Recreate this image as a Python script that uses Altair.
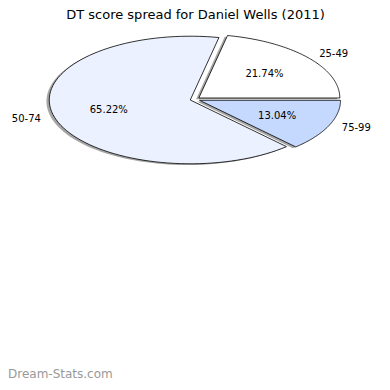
import altair as alt
import pandas as pd

# ---- data ----
labels = ["25-49", "50-74", "75-99"]
counts = [5, 15, 3]
colors = ["#FFFFFF", "#EBF1FE", "#C5D8FE"]
title_text = "DT score spread for Daniel Wells (2011)"
watermark = "Dream-Stats.com"

EXPLODE = 0.035
N = 90  # arc resolution

slices = pd.DataFrame({"cat": labels, "value": counts, "order": list(range(len(labels)))})
steps = pd.DataFrame({"k": list(range(N + 3))})
pts = slices.merge(steps, how="cross")

xs = alt.Scale(domain=[-1, 1], range=[46, 328], nice=False, zero=False)
ys = alt.Scale(domain=[-1, 1], range=[155.2, 27.6], nice=False, zero=False)

base = (
    alt.Chart(pts)
    .transform_joinaggregate(total="sum(value)", groupby=["k"])
    .transform_window(cum="sum(value)", sort=[alt.SortField("order", order="ascending")],
                      groupby=["k"], frame=[None, 0])
    .transform_calculate(a0="2*PI*(datum.cum-datum.value)/datum.total")
    .transform_calculate(a1="2*PI*datum.cum/datum.total")
    .transform_calculate(mid="(datum.a0+datum.a1)/2")
    .transform_calculate(t=f"clamp((datum.k-1)/{N},0,1)")
    .transform_calculate(ang="datum.a0+(datum.a1-datum.a0)*datum.t")
    .transform_calculate(r=f"(datum.k==0 || datum.k=={N + 2}) ? 0 : 1")
    .transform_calculate(px=f"{EXPLODE}*cos(datum.mid)+datum.r*cos(datum.ang)")
    .transform_calculate(py=f"{EXPLODE}*sin(datum.mid)+datum.r*sin(datum.ang)")
    .transform_calculate(sx="datum.px-0.02", sy="datum.py-0.02")
)

shadow = base.mark_line(filled=True, fill="black", fillOpacity=0.35, strokeWidth=0).encode(
    x=alt.X("sx:Q", scale=xs, axis=None),
    y=alt.Y("sy:Q", scale=ys, axis=None),
    detail="cat:N",
    order="k:Q",
)

wedges = base.mark_line(filled=True, stroke="black", strokeWidth=0.8, strokeJoin="miter").encode(
    x=alt.X("px:Q", scale=xs, axis=None),
    y=alt.Y("py:Q", scale=ys, axis=None),
    color=alt.Color("cat:N", scale=alt.Scale(domain=labels, range=colors), legend=None),
    order="k:Q",
)

lab = (
    base.transform_filter("datum.k==0")
    .transform_calculate(lx=f"({EXPLODE}+1.1)*cos(datum.mid)", ly=f"({EXPLODE}+1.1)*sin(datum.mid)")
    .transform_calculate(cx=f"({EXPLODE}+0.6)*cos(datum.mid)", cy=f"({EXPLODE}+0.6)*sin(datum.mid)")
    .transform_calculate(pct="format(datum.value/datum.total*100,'.2f')+'%'")
)

txt_kw = dict(font="DejaVu Sans", fontSize=10, color="black", baseline="middle")

lab_left = lab.transform_filter("cos(datum.mid)>=0").mark_text(align="left", **txt_kw).encode(
    x=alt.X("lx:Q", scale=xs, axis=None), y=alt.Y("ly:Q", scale=ys, axis=None), text="cat:N")
lab_right = lab.transform_filter("cos(datum.mid)<0").mark_text(align="right", **txt_kw).encode(
    x=alt.X("lx:Q", scale=xs, axis=None), y=alt.Y("ly:Q", scale=ys, axis=None), text="cat:N")
pct = lab.mark_text(align="center", **txt_kw).encode(
    x=alt.X("cx:Q", scale=xs, axis=None), y=alt.Y("cy:Q", scale=ys, axis=None), text="pct:N")

title = alt.Chart(pd.DataFrame({"t": [title_text]})).mark_text(
    font="DejaVu Sans", fontSize=13, align="center", baseline="alphabetic", color="black"
).encode(text="t:N", x=alt.value(187.5), y=alt.value(11))

wm = alt.Chart(pd.DataFrame({"t": [watermark]})).mark_text(
    font="DejaVu Sans", fontSize=12, align="left", baseline="alphabetic", color="#999999"
).encode(text="t:N", x=alt.value(0), y=alt.value(370))

chart = (
    alt.layer(shadow, wedges, lab_left, lab_right, pct, title, wm)
    .properties(width=374, height=374, autosize="none", padding=0, background="white")
    .configure_view(stroke=None)
)

chart.save("out.html", embed_options={"renderer": "svg", "actions": False})
